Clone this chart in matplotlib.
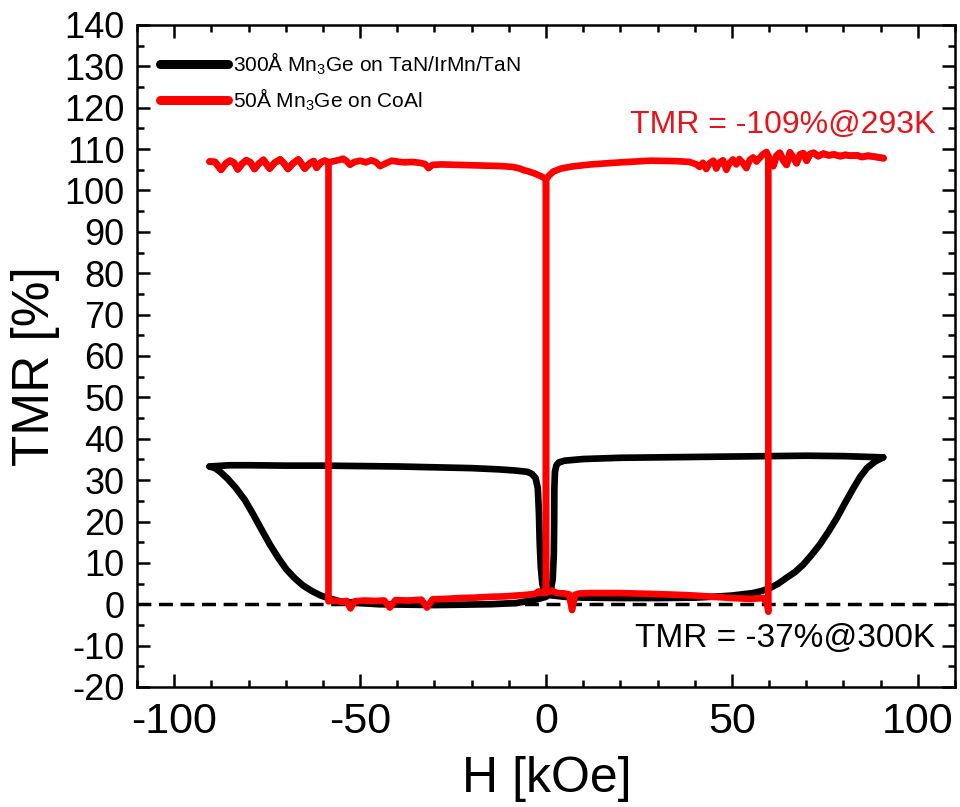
import matplotlib
matplotlib.use("Agg")
import matplotlib.pyplot as plt
import numpy as np

# ---------------- data ----------------
# Black: 300 A Mn3Ge on TaN/IrMn/TaN  (sweep from +90 kOe down to -90 kOe)
h_black_down = [90.7, 80, 70, 60, 50, 40, 30, 20, 10, 5, 3.5, 2.8, 2.4, 2.25, 2.2, 2.1,
                1.8, 1.3, 0.5, 0, -2, -4, -8, -15, -30, -45, -55, -58.6, -60.8, -63,
                -65.3, -67.6, -69.8, -72, -74.3, -76.6, -78.8, -81, -83.5, -85.6, -87.5, -89, -90.5]
tmr_black_down = [35.5, 35.8, 35.9, 35.8, 35.7, 35.6, 35.5, 35.4, 35.1, 34.7, 34.3, 33.6, 32.0, 28.0, 20.0, 12.0,
                  6.0, 3.5, 2.2, 1.8, 1.3, 0.9, 0.3, 0.0, -0.2, 0.0, 0.6, 1.5, 2.2, 3.2,
                  4.5, 6.3, 8.4, 11.2, 14.5, 18.2, 21.8, 25.2, 28.2, 30.3, 31.9, 32.9, 33.3]
# Black: sweep from -90 kOe up to +90 kOe
h_black_up = [-90.5, -85, -80, -70, -60, -50, -40, -30, -20, -12.7, -8, -5, -3.8, -2.8, -2.2,
              -1.9, -1.7, -1.4, -1.0, -0.5, 0, 1, 3, 5, 10, 20, 30, 40, 46.7, 50, 55.6,
              58, 60.2, 62.5, 64.7, 67, 69.2, 71.5, 73.7, 76, 78.2, 80.5, 82.7, 84.5, 86.3,
              88.5, 90.7]
tmr_black_up = [33.3, 33.6, 33.6, 33.5, 33.5, 33.4, 33.3, 33.1, 32.9, 32.6, 32.3, 32.0, 31.5, 30.5, 28.0,
                22.0, 15.0, 9.0, 5.0, 3.0, 2.4, 2.2, 2.0, 1.8, 1.6, 1.5, 1.5, 1.6, 1.9, 2.1, 2.7,
                3.2, 3.9, 5.0, 6.4, 7.8, 9.6, 12.0, 14.5, 17.6, 20.8, 24.6, 28.1, 30.8, 32.9,
                34.5, 35.5]

# Red: 50 A Mn3Ge on CoAl, high-resistance branches
h_red_top_left = [-90.5, -89, -87.4, -86, -85, -83.9, -82.9, -81.7, -80.6, -79.5, -78.4, -77.2, -76,
                  -75.2, -74.3, -73, -71.5, -70.5, -69.4, -68, -66.6, -65.7, -64.9, -63.5, -62.5,
                  -61.7, -60.5, -59.5, -58.5, -57, -55.5, -54.6, -53.6, -52.7, -51.5, -50, -48.5,
                  -47, -45.8, -44.6, -43, -41.5, -40, -38, -36, -34, -32.5, -31.6, -30.5, -28,
                  -24, -20, -16, -12, -9, -7, -6, -5, -4, -3, -2, -1, -0.3, 0]
tmr_red_top_left = [107.0, 106.9, 105.0, 106.6, 107.2, 106.7, 105.1, 106.5, 107.3, 106.8, 105.2, 106.5, 107.4,
                    106.4, 105.3, 106.7, 107.5, 106.6, 105.2, 106.6, 107.5, 106.4, 105.3, 106.6, 107.1,
                    105.5, 106.8, 107.2, 106.8, 107.1, 107.4, 107.7, 107.1, 106.2, 106.9, 107.2, 106.8,
                    107.3, 106.9, 105.9, 106.6, 107.2, 107.0, 106.8, 106.9, 106.7, 106.4, 105.4, 106.2, 106.3,
                    106.2, 106.1, 106.0, 105.9, 105.7, 105.3, 104.9, 104.7, 104.4, 104.1, 103.7, 103.3, 102.9, 102.7]
h_red_top_right = [0, 0.8, 2, 4, 7, 12, 20, 28, 35, 38.6, 40.5, 41.3, 42.2, 43.1, 44, 45, 45.8, 46.7,
                   47.6, 48.5, 49.4, 50.3, 51.2, 52, 53, 53.9, 54.8, 55.7, 56.6, 57.5, 58.4, 59.3,
                   60.2, 61.1, 62, 62.9, 63.8, 64.7, 65.6, 66.5, 67.4, 68.3, 69.2, 70.1, 71, 72,
                   73.2, 74.6, 76, 77.5, 79.1, 80.5, 82, 83.6, 85, 86.6, 88.1, 89.5, 90.8]
tmr_red_top_right = [102.7, 103.6, 104.6, 105.3, 105.8, 106.3, 106.8, 107.2, 107.1, 106.9, 106.3, 105.7, 106.7,
                     105.2, 106.6, 107.2, 105.3, 106.8, 107.3, 105.0, 106.7, 107.5, 106.3, 107.6, 106.6,
                     105.4, 107.4, 108.0, 107.0, 107.9, 108.8, 109.3, 107.6, 105.9, 108.4, 109.1, 107.3,
                     106.2, 109.2, 108.0, 106.6, 108.7, 109.0, 107.2, 108.8, 109.1, 108.3, 108.9, 108.5,
                     108.7, 108.3, 108.6, 108.4, 108.5, 108.1, 108.4, 108.2, 108.0, 107.8]
# Red: low-resistance branches
h_red_bottom_left = [-58.5, -57, -55, -53.6, -52.6, -51.5, -49, -46, -43.5, -42, -40.5, -37, -33.5, -32,
                     -30.5, -27, -23, -19, -15, -11, -8, -5, -3, -2, -1, 0]
tmr_red_bottom_left = [0.7, 0.9, 0.6, 0.8, -1.0, 0.7, 0.9, 0.8, 0.9, -0.8, 1.0, 0.9, 1.1, -0.8,
                       1.2, 1.3, 1.5, 1.6, 1.8, 1.9, 2.1, 2.3, 2.5, 3.1, 2.7, 2.8]
h_red_bottom_right = [0, 1.5, 3, 5, 6.2, 7, 7.8, 9, 12, 20, 28, 35, 40, 45, 50, 55, 58.5, 59.4, 59.8]
tmr_red_bottom_right = [2.8, 3.3, 2.7, 2.6, 2.4, -1.4, 2.3, 2.6, 2.7, 2.7, 2.5, 2.3, 2.1, 1.8, 1.5, 1.3,
                        1.5, 0.3, -1.8]

legend_labels = [r"300Å Mn$_3$Ge on TaN/IrMn/TaN", r"50Å Mn$_3$Ge on CoAl"]
note_red = "TMR = -109%@293K"
note_black = "TMR = -37%@300K"

x_major = [-100, -50, 0, 50, 100]
y_major = list(range(-20, 141, 10))

# ---------------- build red sweeps from the branches ----------------
htl, ttl = np.array(h_red_top_left), np.array(tmr_red_top_left)
htr, ttr = np.array(h_red_top_right), np.array(tmr_red_top_right)
hbl, tbl = np.array(h_red_bottom_left), np.array(tmr_red_bottom_left)
hbr, tbr = np.array(h_red_bottom_right), np.array(tmr_red_bottom_right)

sel_r = htr >= hbr[-1]
h_red_up = np.concatenate([htl, hbr, [hbr[-1]], htr[sel_r]])
t_red_up = np.concatenate([ttl, tbr, [108.3], ttr[sel_r]])
sel_l = htl <= hbl[0]
h_red_down = np.concatenate([htr[::-1], hbl[::-1], htl[sel_l][::-1]])
t_red_down = np.concatenate([ttr[::-1], tbl[::-1], ttl[sel_l][::-1]])

# ---------------- figure ----------------
plt.rcParams['font.family'] = ['Liberation Sans', 'DejaVu Sans']
plt.rcParams['mathtext.fontset'] = 'custom'
plt.rcParams['mathtext.rm'] = 'Liberation Sans'

fig = plt.figure(figsize=(9.6, 8.07), dpi=100)
ax = fig.add_axes([137/960, 1-687/807, (955-137)/960, (687-25)/807])

lw = 4.8
ax.axhline(0, color='black', lw=2.5, ls=(0, (4.0, 2.2)), zorder=1.5)
l1, = ax.plot(h_black_down, tmr_black_down, color='black', lw=lw, solid_joinstyle='round',
              solid_capstyle='round', zorder=2, label=legend_labels[0])
ax.plot(h_black_up, tmr_black_up, color='black', lw=lw, solid_joinstyle='round',
        solid_capstyle='round', zorder=2)
l2, = ax.plot(h_red_down, t_red_down, color='#ff0000', lw=lw, solid_joinstyle='round',
              solid_capstyle='round', zorder=3, label=legend_labels[1])
ax.plot(h_red_up, t_red_up, color='#ff0000', lw=lw, solid_joinstyle='round',
        solid_capstyle='round', zorder=3)

ax.set_xlim(-110, 110)
ax.set_ylim(-20, 140)
ax.set_xticks(x_major)
ax.set_xticks(np.arange(-110, 111, 10), minor=True)
ax.set_yticks(y_major)
ax.set_yticks(np.arange(-20, 141, 5), minor=True)
ax.set_xticklabels([str(v) for v in x_major], fontsize=31)
ax.set_yticklabels([str(v) for v in y_major], fontsize=26)
ax.tick_params(which='both', direction='in', top=True, right=True, width=1.8)
ax.tick_params(which='major', length=9.5)
ax.tick_params(which='minor', length=5)
ax.tick_params(axis='x', which='major', pad=11)
ax.tick_params(axis='y', which='major', pad=9)
for s in ax.spines.values():
    s.set_linewidth(1.8)

ax.set_xlabel("H [kOe]", fontsize=36)
ax.xaxis.set_label_coords((547-137)/818, (687-779)/662)
ax.xaxis.label.set_verticalalignment('center')
ax.set_ylabel("TMR [%]", fontsize=37)
ax.yaxis.set_label_coords((36-137)/818, (687-366)/662)
ax.yaxis.label.set_verticalalignment('center')

ax.text(104.7, 115.9, note_red, color='#e8141c', fontsize=23, ha='right', va='center')
ax.text(104.7, -8.2, note_black, color='black', fontsize=24, ha='right', va='center')

leg = ax.legend(handles=[l1, l2], loc='upper left', bbox_to_anchor=(0.028, 0.962),
                frameon=False, borderpad=0, borderaxespad=0, handlelength=3.27,
                handletextpad=0.25, labelspacing=0.45,
                prop={'size': 15})
for ln in leg.get_lines():
    ln.set_linewidth(6.5)
    ln.set_solid_capstyle('round')

fig.savefig("out.png", dpi=100, facecolor='white')
